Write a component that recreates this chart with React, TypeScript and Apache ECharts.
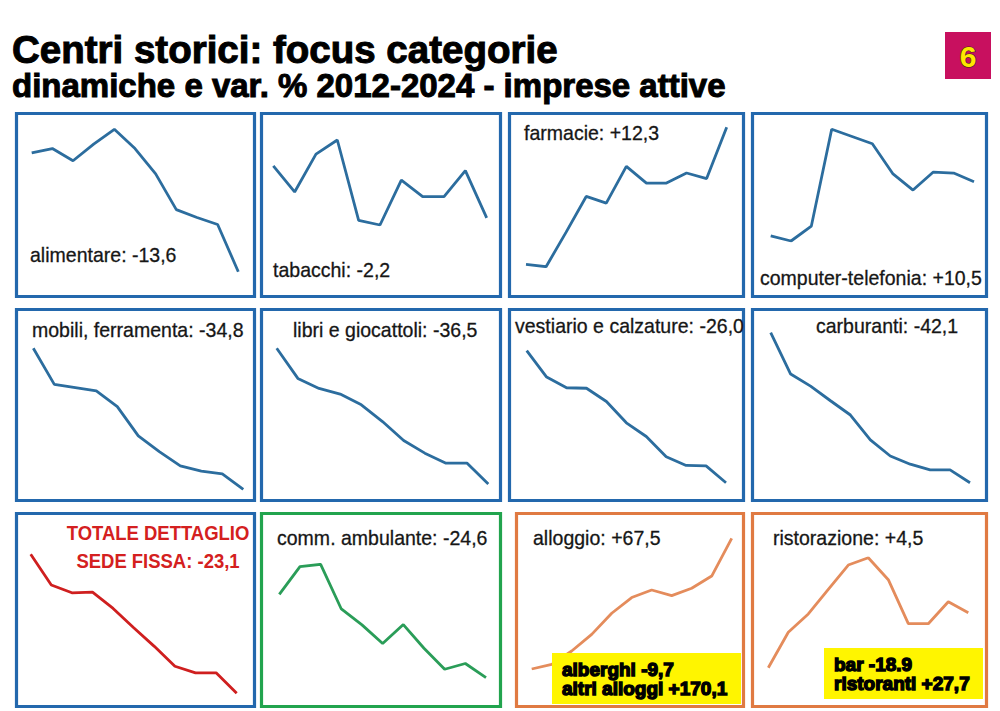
import React, { useEffect, useRef } from "react";
import * as echarts from "echarts";

// ---- data (index, first year = 100) ----
const years = ["2014", "2015", "2016", "2017", "2018", "2019", "2020", "2021", "2022", "2023", "2024"];
const alimentare = [100, 100.5, 99.1, 101.0, 102.7, 100.5, 97.6, 93.5, 92.6, 91.8, 86.4];
const tabacchi = [100, 98.9, 100.5, 101.1, 97.7, 97.5, 99.4, 98.7, 98.7, 99.8, 97.8];
const farmacie = [100, 99.8, 102.9, 106.1, 105.5, 108.8, 107.3, 107.3, 108.2, 107.7, 112.3];
const computer = [100, 99.0, 101.9, 120.7, 119.3, 117.9, 112.1, 108.9, 112.4, 112.2, 110.5];
const mobili = [100, 91.1, 90.3, 89.5, 85.6, 78.4, 74.5, 71.0, 69.7, 69.0, 65.2];
const libri = [100, 91.9, 89.2, 87.7, 84.8, 80.3, 75.2, 71.8, 69.1, 69.1, 63.5];
const vestiario = [100, 94.8, 92.7, 92.6, 90.0, 85.8, 83.1, 79.1, 77.4, 77.3, 74.0];
const carburanti = [100, 88.4, 85.0, 80.9, 76.9, 69.9, 65.4, 63.1, 61.5, 61.5, 57.9];
const totale = [100, 94.9, 93.6, 93.7, 91.0, 87.8, 84.7, 81.4, 80.3, 80.3, 76.9];
const ambulante = [100, 108.2, 108.9, 95.7, 91.0, 85.5, 91.1, 84.1, 77.9, 79.6, 75.4];
const alloggio = [100, 102.4, 109.3, 117.9, 128.8, 136.9, 140.8, 137.9, 141.7, 148.0, 167.5];
const ristorazione = [100, 102.9, 104.4, 106.4, 108.4, 109.0, 107.2, 103.6, 103.6, 105.4, 104.5];

const labels = [
  "alimentare: -13,6",
  "tabacchi: -2,2",
  "farmacie: +12,3",
  "computer-telefonia: +10,5",
  "mobili, ferramenta: -34,8",
  "libri e giocattoli: -36,5",
  "vestiario e calzature: -26,0",
  "carburanti: -42,1",
  "",
  "comm. ambulante: -24,6",
  "alloggio: +67,5",
  "ristorazione: +4,5",
];
const totaleLabel = ["TOTALE DETTAGLIO", "SEDE FISSA: -23,1"];
const alloggioNote = ["alberghi -9,7", "altri alloggi +170,1"];
const ristorazioneNote = ["bar -18.9", "ristoranti +27,7"];

const seriesData = [alimentare, tabacchi, farmacie, computer, mobili, libri, vestiario, carburanti, totale, ambulante, alloggio, ristorazione];

// ---- layout ----
const BLUE_B = "#2368ad";
const GREEN_B = "#22a44e";
const ORANGE_B = "#e07a42";
const BLUE_L = "#2c6d9e";
const RED_L = "#cf1f1f";
const GREEN_L = "#2a9d58";
const ORANGE_L = "#e48c5c";

// panel boxes: [x0, y0, x1, y1, borderColor]
const boxes: [number, number, number, number, string][] = [
  [15, 112, 256, 298, BLUE_B],
  [260, 112, 502, 298, BLUE_B],
  [508, 112, 745, 298, BLUE_B],
  [751, 112, 988, 298, BLUE_B],
  [15, 308, 256, 502, BLUE_B],
  [260, 308, 502, 502, BLUE_B],
  [508, 308, 745, 502, BLUE_B],
  [751, 308, 988, 502, BLUE_B],
  [15, 512, 256, 708, BLUE_B],
  [260, 512, 502, 708, GREEN_B],
  [515, 512, 745, 708, ORANGE_B],
  [751, 512, 988, 708, ORANGE_B],
];
// plot areas: [left, right, top, bottom]
const plots: [number, number, number, number][] = [
  [31.7, 238.3, 129.3, 271.7],
  [273.3, 486.7, 140, 225],
  [526, 726.7, 127.3, 266.7],
  [770.7, 974, 129.3, 241],
  [33.3, 243.3, 348.3, 489.3],
  [276.7, 488.3, 348.3, 484],
  [526.7, 726, 350.7, 482.7],
  [770.7, 970, 332.7, 482.7],
  [30.7, 236.7, 554.3, 693.3],
  [279.3, 486, 564.3, 677.7],
  [531.7, 731.7, 538.3, 669],
  [768.3, 968.3, 557.7, 667.7],
];
const lineColors = [BLUE_L, BLUE_L, BLUE_L, BLUE_L, BLUE_L, BLUE_L, BLUE_L, BLUE_L, RED_L, GREEN_L, ORANGE_L, ORANGE_L];
// label positions: [x, y]
const labelPos: [number, number][] = [
  [30, 255],
  [273, 270],
  [524, 133],
  [760, 278],
  [32, 330],
  [293, 330],
  [515, 326],
  [816, 326],
  [0, 0],
  [277, 538],
  [533, 538],
  [773, 538],
];

const FONT = "'Liberation Sans', Arial, sans-serif";

export default function App() {
  const ref = useRef<HTMLDivElement>(null);
  useEffect(() => {
    if (!ref.current) return;
    const chart = echarts.init(ref.current, undefined, { renderer: "svg" });
    const grid = plots.map((p) => ({ left: p[0], top: p[2], width: p[1] - p[0], height: p[3] - p[2], containLabel: false }));
    const xAxis = plots.map((_, i) => ({ type: "category", data: years, boundaryGap: false, show: false, gridIndex: i }));
    const yAxis = plots.map((_, i) => ({
      type: "value",
      show: false,
      gridIndex: i,
      scale: true,
      min: (v: any) => v.min,
      max: (v: any) => v.max,
    }));
    const series = seriesData.map((d, i) => ({
      type: "line",
      xAxisIndex: i,
      yAxisIndex: i,
      data: d,
      showSymbol: false,
      silent: true,
      z: 3,
      lineStyle: { color: lineColors[i], width: 2.8 },
    }));

    const graphic: any[] = [];
    boxes.forEach((b) => {
      graphic.push({
        type: "rect",
        z: 1,
        silent: true,
        shape: { x: b[0] + 1.5, y: b[1] + 1.5, width: b[2] - b[0] - 3, height: b[3] - b[1] - 3 },
        style: { fill: "none", stroke: b[4], lineWidth: 3.2 },
      });
    });
    labels.forEach((t, i) => {
      if (!t) return;
      graphic.push({
        type: "text",
        z: 5,
        x: labelPos[i][0],
        y: labelPos[i][1],
        scaleX: 0.93,
        style: {
          text: t,
          fill: "#161616",
          stroke: "#161616",
          lineWidth: 0.3,
          font: `21px ${FONT}`,
          verticalAlign: "middle",
          align: "left",
        },
      });
    });
    totaleLabel.forEach((t, k) => {
      graphic.push({
        type: "text",
        z: 5,
        x: 158,
        y: k === 0 ? 533 : 561,
        scaleX: 0.88,
        style: {
          text: t,
          fill: "#d42020",
          font: `bold 21px ${FONT}`,
          verticalAlign: "middle",
          align: "center",
        },
      });
    });
    // yellow notes
    const notes: [number, number, number, number, string[]][] = [
      [552, 653, 741, 704, alloggioNote],
      [824, 648, 983, 699, ristorazioneNote],
    ];
    notes.forEach((n) => {
      graphic.push({
        type: "rect",
        z: 10,
        shape: { x: n[0], y: n[1], width: n[2] - n[0], height: n[3] - n[1] },
        style: { fill: "#fff500" },
      });
      n[4].forEach((t, k) => {
        graphic.push({
          type: "text",
          z: 11,
          x: n[0] + 10,
          y: n[1] + 16 + k * 19,
          style: {
            text: t,
            fill: "#000",
            stroke: "#000",
            lineWidth: 1.4,
            font: `bold 19px ${FONT}`,
            lineHeight: 19,
            verticalAlign: "middle",
          },
        });
      });
    });
    // title
    graphic.push({
      type: "text",
      z: 5,
      x: 12,
      y: 49,
      style: {
        text: "Centri storici: focus categorie",
        fill: "#000",
        stroke: "#000",
        lineWidth: 1,
        font: `bold 38.5px ${FONT}`,
        lineHeight: 34,
        verticalAlign: "middle",
      },
    });
    graphic.push({
      type: "text",
      z: 5,
      x: 12,
      y: 85,
      style: {
        text: "dinamiche e var. % 2012-2024 - imprese attive",
        fill: "#000",
        stroke: "#000",
        lineWidth: 1,
        font: `bold 33px ${FONT}`,
        lineHeight: 30,
        verticalAlign: "middle",
      },
    });
    // badge
    graphic.push({
      type: "rect",
      z: 5,
      shape: { x: 945, y: 32, width: 46, height: 47 },
      style: { fill: "#c8105f" },
    });
    graphic.push({
      type: "text",
      z: 6,
      x: 968,
      y: 56,
      style: { text: "6", fill: "#ffe600", stroke: "#3a2a10", lineWidth: 1.2, font: `bold 30px ${FONT}`, align: "center", verticalAlign: "middle" },
    });

    chart.setOption({
      animation: false,
      backgroundColor: "#ffffff",
      grid,
      xAxis,
      yAxis,
      series,
      graphic,
    } as any);
    return () => chart.dispose();
  }, []);
  return <div ref={ref} style={{ position: "fixed", left: 0, top: 0, width: 1000, height: 711 }} />;
}
